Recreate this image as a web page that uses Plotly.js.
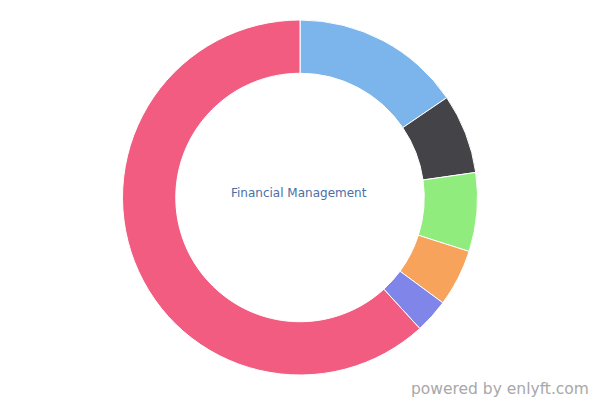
<!DOCTYPE html>
<html>
<head>
<meta charset="utf-8">
<script src="https://cdn.plot.ly/plotly-3.0.1.min.js"></script>
<style>html,body{margin:0;padding:0;background:#fff}#chart{width:600px;height:400px}</style>
</head>
<body>
<div id="chart"></div>
<script>
const labels = ["Segment 1", "Segment 2", "Segment 3", "Segment 4", "Segment 5", "Segment 6"];
const values = [15.5, 7.25, 7.17, 5.2, 3.1, 61.8];
const colors = ["#7cb5ec", "#434348", "#90ed7d", "#f7a35c", "#8085e9", "#f15c80"];
const centerText = "Financial Management";
const watermark = "powered by enlyft.com";

const plotH = 400 - 20 - 25;
Plotly.newPlot("chart", [{
  type: "pie",
  labels: labels,
  values: values,
  hole: 0.7,
  sort: false,
  direction: "clockwise",
  rotation: 0,
  textinfo: "none",
  hoverinfo: "label+percent",
  marker: {colors: colors, line: {color: "#ffffff", width: 1}}
}], {
  width: 600, height: 400,
  margin: {l: 0, r: 0, t: 20, b: 25},
  showlegend: false,
  paper_bgcolor: "#ffffff",
  font: {family: "DejaVu Sans, sans-serif"},
  annotations: [
    {text: centerText, x: 0.4985, y: 0.513, xref: "paper", yref: "paper", showarrow: false,
     font: {family: "DejaVu Sans", size: 12, color: "#4a6fa5"}},
    {text: watermark, x: 591 / 600, y: (400 - 25 - 389) / plotH, xref: "paper", yref: "paper",
     xanchor: "right", yanchor: "middle", showarrow: false,
     font: {family: "DejaVu Sans", size: 15.5, color: "#a8a8a8"}}
  ]
}, {displayModeBar: false, staticPlot: true});
</script>
</body>
</html>
